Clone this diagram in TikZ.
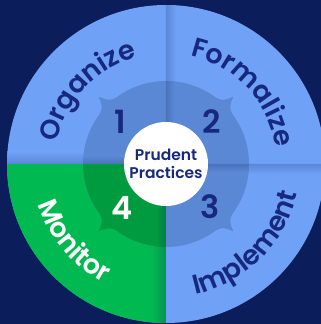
\documentclass[tikz,border=0pt]{standalone}
\usepackage{fontspec}
\setmainfont{Poppins}[BoldFont={Poppins SemiBold}]
\usetikzlibrary{decorations.text}
\definecolor{bgc}{HTML}{0B1E5B}
\definecolor{lbc}{HTML}{6FA1F6}
\definecolor{rbc}{HTML}{5A88D4}
\definecolor{grc}{HTML}{00B950}
\definecolor{dgc}{HTML}{009B3F}
\definecolor{navc}{HTML}{17297E}
\tikzset{
  numtxt/.style={font=\fontsize{32}{36}\selectfont\bfseries},
  arctxt/.style={decorate,decoration={text along path,text align=center,
     text={|\fontsize{27}{30}\selectfont\bfseries|#1}}},
}
\begin{document}
\begin{tikzpicture}[x=1pt,y=1pt]
\fill[bgc] (-166,-160) rectangle (155,164);
\useasboundingbox (-166,-160) rectangle (155,164);
% outer disc
\fill[lbc] (0,0) circle (159);
\fill[grc] (0,0) -- (180:159) arc (180:270:159) -- cycle;
% shadows on outer band
\begin{scope}
  \clip (0,0) -- (90:159) arc (90:0:159) -- cycle;
  \shade[left color=lbc!80!bgc,right color=lbc] (0,0) rectangle (10,160);
\end{scope}
\begin{scope}
  \clip (0,0) -- (0:159) arc (0:-90:159) -- cycle;
  \shade[top color=lbc!80!bgc,bottom color=lbc] (0,-10) rectangle (160,0);
\end{scope}
\begin{scope}
  \clip (0,0) -- (270:159) arc (270:180:159) -- cycle;
  \shade[right color=grc!75!bgc,left color=grc] (-14,-160) rectangle (0,0);
\end{scope}
\begin{scope}
  \clip (0,0) -- (180:159) arc (180:90:159) -- cycle;
  \shade[bottom color=lbc!80!bgc,top color=lbc] (-160,0) rectangle (0,12);
\end{scope}
% inner ring with spikes
\fill[rbc] (0,0) circle (83);
\foreach \a in {45,135,-45}{
  \fill[rbc] (\a-10:82) .. controls (\a-3:85) .. (\a:95) .. controls (\a+3:85) .. (\a+10:82) -- cycle;
}
\fill[dgc] (0,0) -- (180:83) arc (180:270:83) -- cycle;
\fill[dgc] (225-10:82) .. controls (225-3:85) .. (225:95) .. controls (225+3:85) .. (225+10:82) -- cycle;
% shadows on ring
\begin{scope}
  \clip (0,0) -- (90:83) arc (90:0:83) -- cycle;
  \shade[left color=rbc!80!bgc,right color=rbc] (0,0) rectangle (8,84);
\end{scope}
\begin{scope}
  \clip (0,0) -- (0:83) arc (0:-90:83) -- cycle;
  \shade[top color=rbc!80!bgc,bottom color=rbc] (0,-8) rectangle (84,0);
\end{scope}
\begin{scope}
  \clip (0,0) -- (270:83) arc (270:180:83) -- cycle;
  \shade[right color=dgc!75!bgc,left color=dgc] (-10,-84) rectangle (0,0);
\end{scope}
\begin{scope}
  \clip (0,0) -- (180:83) arc (180:90:83) -- cycle;
  \shade[bottom color=rbc!80!bgc,top color=rbc] (-84,0) rectangle (0,8);
\end{scope}
% center
\node[circle,fill=white,minimum size=84pt,inner sep=0pt,align=center,
  text=navc,font=\fontsize{15.5}{18}\selectfont\bfseries] (c) at (0,0) {Prudent\\Practices};
% numbers
\node[numtxt,text=navc] (n1) at (-46,42) {1};
\node[numtxt,text=navc] (n2) at (46,42) {2};
\node[numtxt,text=navc] (n3) at (44,-43) {3};
\node[numtxt,text=white] (n4) at (-44,-44) {4};
% arc labels
\path[arctxt={Organize},decoration={text color=navc}] (178:111) arc (178:96:111);
\path[arctxt={Formalize},decoration={text color=navc}] (88:111) arc (88:-2:111);
\path[arctxt={Implement},decoration={text color=navc}] (-93:134) arc (-93:3:134);
\path[arctxt={Monitor},decoration={text color=white}] (180:134) arc (180:260:134);
\end{tikzpicture}
\end{document}
